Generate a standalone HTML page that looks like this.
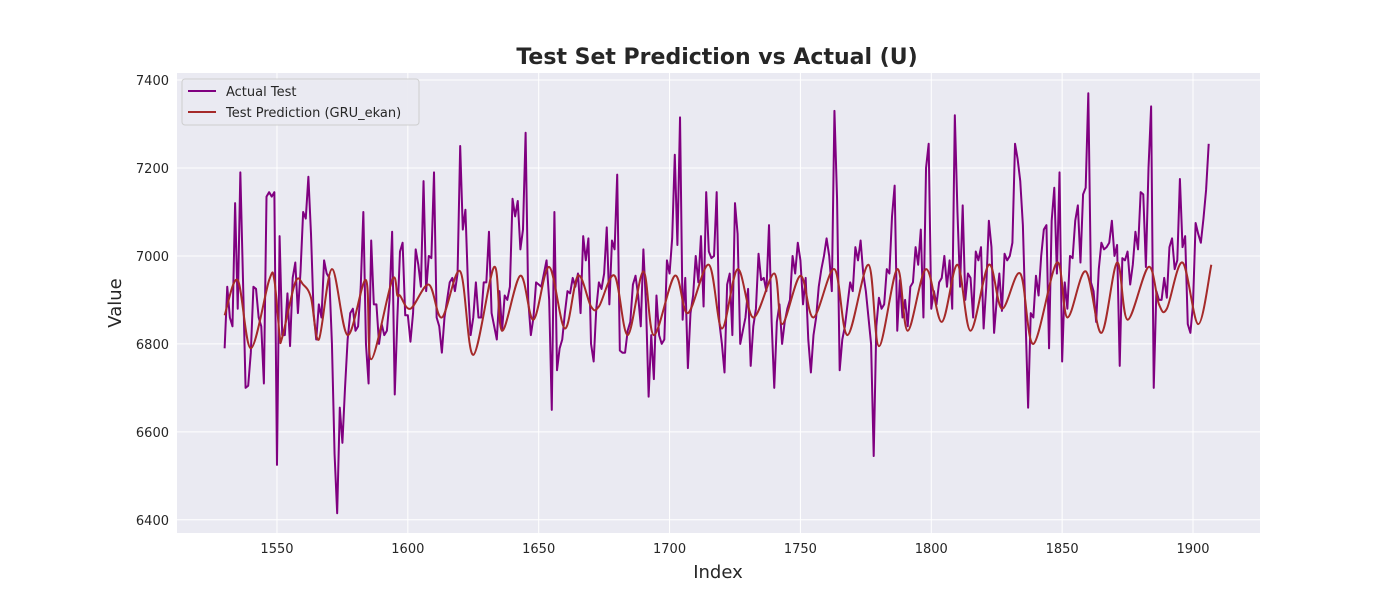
<!DOCTYPE html>
<html><head><meta charset="utf-8"><style>
body{margin:0;background:#fff;font-family:"Liberation Sans","DejaVu Sans",sans-serif}
svg text{font-family:"DejaVu Sans","Liberation Sans",sans-serif;fill:#262626}
</style></head><body>
<svg id="chart" width="1400" height="600" xmlns="http://www.w3.org/2000/svg">
<rect x="0" y="0" width="1400" height="600" fill="#fff"/>
<rect x="177" y="73" width="1083" height="460" fill="#eaeaf2"/>
<g id="grid"></g>
<g id="series"></g>
<g id="ticks"></g>
<text x="717" y="64" text-anchor="middle" font-size="22" font-weight="bold">Test Set Prediction vs Actual (U)</text>
<text x="718" y="578" text-anchor="middle" font-size="18">Index</text>
<text transform="translate(121,303) rotate(-90)" text-anchor="middle" font-size="18">Value</text>
<g>
<rect x="182" y="79" width="237" height="46" rx="3" fill="#eaeaf2" stroke="#cccccc" opacity="0.9"/>
<line x1="188" y1="91" x2="216" y2="91" stroke="#800080" stroke-width="2"/>
<text x="226" y="96" font-size="13">Actual Test</text>
<line x1="188" y1="112" x2="216" y2="112" stroke="#a52a2a" stroke-width="2"/>
<text x="226" y="117" font-size="13">Test Prediction (GRU_ekan)</text>
</g>
</svg>
<script>
const startIndex = 1530;
const actualValues = [6790,6930,6860,6840,7120,6880,7190,6950,6700,6705,6780,6930,6925,6860,6840,6710,7135,7145,7135,7145,6525,7045,6820,6820,6915,6795,6950,6985,6870,6965,7100,7085,7180,7050,6870,6810,6890,6860,6990,6960,6950,6800,6550,6415,6655,6575,6700,6810,6870,6880,6830,6840,6930,7100,6800,6710,7035,6890,6890,6800,6845,6820,6830,6900,7055,6685,6860,7010,7030,6865,6865,6805,6870,7015,6980,6930,7170,6920,7000,6995,7190,6860,6840,6780,6860,6900,6940,6950,6920,6960,7250,7060,7105,6930,6820,6860,6940,6860,6860,6940,6940,7055,6870,6840,6810,6920,6830,6910,6900,6930,7130,7090,7125,7015,7060,7280,6900,6820,6860,6940,6935,6930,6960,6990,6900,6650,7100,6740,6790,6810,6870,6920,6915,6950,6930,6960,6870,7045,6990,7040,6800,6760,6880,6940,6925,6960,7065,6890,7035,7015,7185,6785,6780,6780,6830,6850,6935,6955,6910,6840,7015,6890,6680,6820,6720,6910,6820,6800,6810,6990,6960,7040,7230,7025,7315,6855,6950,6745,6870,6910,7000,6940,7045,6885,7145,7010,6995,7000,7145,6850,6800,6735,6935,6960,6820,7120,7050,6800,6830,6860,6925,6750,6840,6880,7005,6945,6950,6920,7070,6850,6700,6850,6890,6800,6850,6880,6900,7000,6960,7030,6990,6890,6950,6810,6735,6820,6860,6930,6970,7000,7040,7000,6920,7330,7130,6740,6810,6840,6890,6940,6920,7020,6990,7035,6960,6920,6860,6800,6545,6840,6905,6880,6890,6970,6960,7090,7160,6830,6945,6860,6900,6840,6930,6940,7020,6980,7060,6860,7200,7255,6880,6920,6890,6940,6950,7000,6930,6990,6880,7320,7100,6930,7115,6900,6960,6950,6860,7010,6990,7020,6835,6930,7080,7020,6825,6900,6960,6875,7005,6990,7000,7030,7255,7220,7170,7070,6860,6655,6870,6860,6955,6910,7000,7060,7070,6790,7080,7155,6960,7190,6760,6940,6880,7000,6995,7080,7115,6985,7140,7155,7370,6940,6920,6850,6970,7030,7015,7020,7030,7080,7000,7025,6750,6995,6990,7010,6935,6980,7055,7015,7145,7140,6975,7200,7340,6700,6920,6900,6900,6950,6905,7020,7040,6970,6990,7175,7020,7045,6845,6825,6890,7075,7050,7030,7085,7150,7255];
const predIndex = [1530,1535,1540,1547,1549,1551,1552,1557,1560,1563,1566,1571,1577,1584,1586,1594,1596,1597,1601,1608,1613,1620,1625,1633,1636,1643,1648,1654,1660,1665,1670,1673,1679,1684,1690,1694,1702,1707,1715,1720,1726,1732,1740,1743,1750,1755,1763,1768,1776,1780,1787,1791,1798,1804,1810,1815,1822,1827,1834,1839,1848,1852,1859,1865,1871,1875,1883,1887,1890,1896,1902,1907];
const predValues = [6865,6945,6790,6945,6945,6820,6815,6940,6935,6905,6810,6970,6820,6945,6765,6945,6910,6910,6880,6935,6860,6965,6775,6975,6830,6955,6855,6975,6835,6955,6885,6885,6955,6820,6965,6820,6955,6870,6980,6835,6970,6860,6960,6845,6955,6860,6970,6820,6980,6795,6970,6830,6970,6850,6980,6830,6980,6880,6960,6800,6985,6860,6965,6825,6985,6855,6975,6890,6880,6985,6845,6980];
const xTicks = [1550,1600,1650,1700,1750,1800,1850,1900];
const yTicks = [6400,6600,6800,7000,7200,7400];

const X0=177,X1=1260,Y0=73,Y1=533, xMin=1511.8,xMax=1925.6,yMin=6370,yMax=7416;
const xs=v=>X0+(v-xMin)/(xMax-xMin)*(X1-X0);
const ys=v=>Y1-(v-yMin)/(yMax-yMin)*(Y1-Y0);
const NS='http://www.w3.org/2000/svg';
const mk=(t,a,p)=>{const e=document.createElementNS(NS,t);for(const k in a)e.setAttribute(k,a[k]);p.appendChild(e);return e;};
const grid=document.getElementById('grid'),ticks=document.getElementById('ticks'),series=document.getElementById('series');
xTicks.forEach(v=>{
  const l=mk('line',{x1:xs(v),x2:xs(v),y1:Y0,y2:Y1,stroke:'#fff','stroke-width':1},grid);
  
  
  const t=mk('text',{x:xs(v),y:Y1+20,'text-anchor':'middle','font-size':13},ticks);
  t.textContent=v;
  
  
});
yTicks.forEach(v=>{
  const l=mk('line',{x1:X0,x2:X1,y1:ys(v),y2:ys(v),stroke:'#fff','stroke-width':1},grid);
  
  
  const t=mk('text',{x:X0-8,y:ys(v)+5,'text-anchor':'end','font-size':13},ticks);
  t.textContent=v;
  
  
});
const ad=actualValues.map((v,i)=>(i?'L':'M')+xs(startIndex+i).toFixed(2)+','+ys(v).toFixed(2)).join('');
const pa=mk('path',{d:ad,fill:'none',stroke:'#800080','stroke-width':2,'stroke-linejoin':'round'},series);


const P=predIndex.map((v,i)=>[xs(v),ys(predValues[i])]);
let pd='M'+P[0][0]+','+P[0][1];
for(let i=0;i<P.length-1;i++){
  const p0=P[Math.max(0,i-1)],p1=P[i],p2=P[i+1],p3=P[Math.min(P.length-1,i+2)];
  const c1=[p1[0]+(p2[0]-p0[0])/6,p1[1]+(p2[1]-p0[1])/6],c2=[p2[0]-(p3[0]-p1[0])/6,p2[1]-(p3[1]-p1[1])/6];
  pd+='C'+c1.join(',')+' '+c2.join(',')+' '+p2.join(',');
}
const pp=mk('path',{d:pd,fill:'none',stroke:'#a52a2a','stroke-width':2},series);


</script>
</body></html>
